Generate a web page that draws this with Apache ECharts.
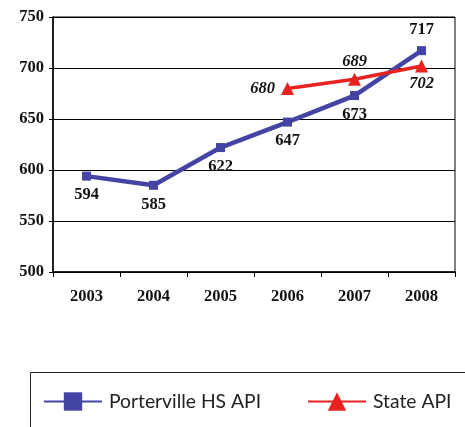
<!DOCTYPE html>
<html>
<head>
<meta charset="utf-8">
<style>html,body{margin:0;padding:0;background:#fff;}#c{width:465px;height:427px;}</style>
<script src="https://cdn.jsdelivr.net/npm/echarts@6/dist/echarts.min.js"></script>
</head>
<body>
<div id="c"></div>
<script>
var years = ['2003','2004','2005','2006','2007','2008'];
var porterville = [594, 585, 622, 647, 673, 717];
var stateApi = [null, null, null, 680, 689, 702];
var yTicks = [500, 550, 600, 650, 700, 750];

var chart = echarts.init(document.getElementById('c'));
var serif = '"Liberation Serif", "DejaVu Serif", serif';
var lblBase = {show: true, fontFamily: serif, fontWeight: 'bold', fontSize: 16.5, color: '#111'};
var stateLabelPos = ['left', 'top', 'bottom'];
var stateLabelDist = [6, 2, 3];
var st = stateApi.map(function (v, i) {
  if (v === null) return v;
  return {value: v, label: {position: stateLabelPos[i - 3], distance: stateLabelDist[i - 3]}};
});
chart.setOption({
  animation: false,
  grid: {left: 53, right: 10, top: 17, bottom: 155, show: true, borderColor: '#000', borderWidth: 1},
  xAxis: {
    type: 'category', data: years, boundaryGap: true,
    axisLine: {lineStyle: {color: '#000', width: 1.5}},
    axisTick: {show: true, length: 5, lineStyle: {color: '#000'}},
    axisLabel: {fontFamily: serif, fontWeight: 'bold', fontSize: 16.5, color: '#111', margin: 16}
  },
  yAxis: {
    type: 'value', min: yTicks[0], max: yTicks[yTicks.length - 1], interval: 50,
    axisLine: {show: true, lineStyle: {color: '#000', width: 1.5}},
    axisTick: {show: true, length: 4, lineStyle: {color: '#000'}},
    splitLine: {lineStyle: {color: '#000', width: 1}},
    axisLabel: {fontFamily: serif, fontWeight: 'bold', fontSize: 16.5, color: '#111', margin: 9}
  },
  legend: {
    left: 38, top: 387, itemWidth: 58, itemHeight: 23, itemGap: 46,
    textStyle: {fontFamily: 'Lato, "Open Sans", sans-serif', fontSize: 19.3, color: '#222', padding: [0, 0, 0, 2]},
    data: ['Porterville HS API', 'State API']
  },
  graphic: [{type: 'rect', shape: {x: 30.5, y: 372.5, width: 460, height: 80}, style: {fill: 'none', stroke: '#222', lineWidth: 1}}],
  series: [
    {
      name: 'Porterville HS API', type: 'line', data: porterville,
      symbol: 'rect', symbolSize: 9,
      lineStyle: {color: '#4444a4', width: 4.5}, itemStyle: {color: '#4444a4'},
      label: Object.assign({}, lblBase, {position: 'bottom', distance: 6}),
      labelLayout: function (p) { return p.dataIndex === 5 ? {dy: -40} : {}; },
      z: 2
    },
    {
      name: 'State API', type: 'line', data: st,
      symbol: 'triangle', symbolSize: 13,
      lineStyle: {color: '#e8231f', width: 3.5}, itemStyle: {color: '#e8231f'},
      label: Object.assign({}, lblBase, {fontStyle: 'italic', position: 'top'}),
      z: 3
    }
  ]
});
</script>
</body>
</html>
